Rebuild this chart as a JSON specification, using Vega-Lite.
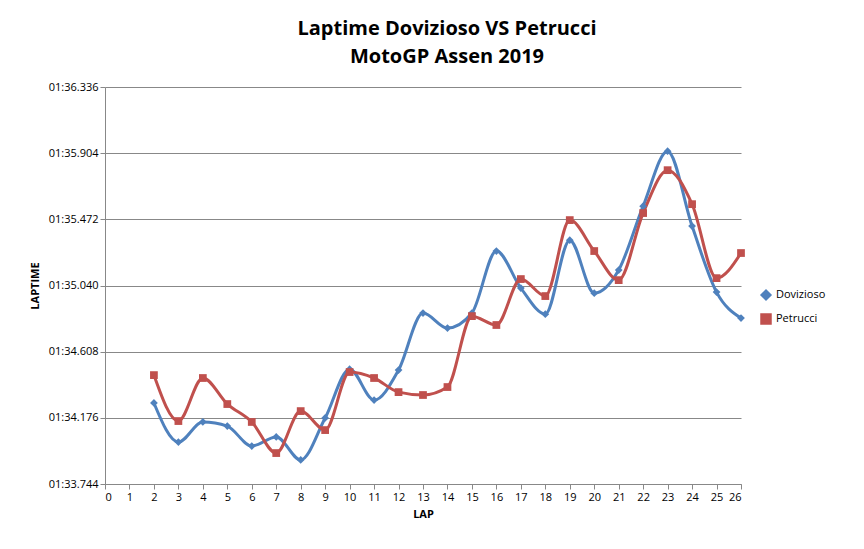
{
"$schema":"https://vega.github.io/schema/vega-lite/v6.json",
"autosize":{"type":"none"},
"width":636,"height":397,
"padding":{"left":105,"top":87,"right":123,"bottom":65},
"background":"white",
"title":{"text":["Laptime Dovizioso VS Petrucci","MotoGP Assen 2019"],"font":"Open Sans","fontSize":20,"fontWeight":"bold","color":"#000","offset":14,"dx":24,"lineHeight":28},
"config":{"view":{"stroke":null},"font":"Open Sans"},
"data":{"values":[
{"lap":2,"r":"Dovizioso","t":34.273},{"lap":3,"r":"Dovizioso","t":34.018},{"lap":4,"r":"Dovizioso","t":34.149},{"lap":5,"r":"Dovizioso","t":34.122},{"lap":6,"r":"Dovizioso","t":33.992},{"lap":7,"r":"Dovizioso","t":34.051},{"lap":8,"r":"Dovizioso","t":33.901},{"lap":9,"r":"Dovizioso","t":34.175},{"lap":10,"r":"Dovizioso","t":34.494},{"lap":11,"r":"Dovizioso","t":34.292},{"lap":12,"r":"Dovizioso","t":34.488},{"lap":13,"r":"Dovizioso","t":34.860},{"lap":14,"r":"Dovizioso","t":34.762},{"lap":15,"r":"Dovizioso","t":34.860},{"lap":16,"r":"Dovizioso","t":35.265},{"lap":17,"r":"Dovizioso","t":35.023},{"lap":18,"r":"Dovizioso","t":34.853},{"lap":19,"r":"Dovizioso","t":35.336},{"lap":20,"r":"Dovizioso","t":34.990},{"lap":21,"r":"Dovizioso","t":35.141},{"lap":22,"r":"Dovizioso","t":35.558},{"lap":23,"r":"Dovizioso","t":35.917},{"lap":24,"r":"Dovizioso","t":35.428},{"lap":25,"r":"Dovizioso","t":34.997},{"lap":26,"r":"Dovizioso","t":34.827},
{"lap":2,"r":"Petrucci","t":34.455},{"lap":3,"r":"Petrucci","t":34.155},{"lap":4,"r":"Petrucci","t":34.436},{"lap":5,"r":"Petrucci","t":34.266},{"lap":6,"r":"Petrucci","t":34.149},{"lap":7,"r":"Petrucci","t":33.946},{"lap":8,"r":"Petrucci","t":34.220},{"lap":9,"r":"Petrucci","t":34.096},{"lap":10,"r":"Petrucci","t":34.475},{"lap":11,"r":"Petrucci","t":34.436},{"lap":12,"r":"Petrucci","t":34.344},{"lap":13,"r":"Petrucci","t":34.325},{"lap":14,"r":"Petrucci","t":34.377},{"lap":15,"r":"Petrucci","t":34.840},{"lap":16,"r":"Petrucci","t":34.782},{"lap":17,"r":"Petrucci","t":35.082},{"lap":18,"r":"Petrucci","t":34.971},{"lap":19,"r":"Petrucci","t":35.467},{"lap":20,"r":"Petrucci","t":35.265},{"lap":21,"r":"Petrucci","t":35.075},{"lap":22,"r":"Petrucci","t":35.513},{"lap":23,"r":"Petrucci","t":35.793},{"lap":24,"r":"Petrucci","t":35.571},{"lap":25,"r":"Petrucci","t":35.088},{"lap":26,"r":"Petrucci","t":35.252}
]},
"encoding":{
"x":{"field":"lap","type":"quantitative","scale":{"domain":[0,26],"nice":false},"axis":{"title":"LAP","values":[0,1,2,3,4,5,6,7,8,9,10,11,12,13,14,15,16,17,18,19,20,21,22,23,24,25,26],"grid":false,"labelFontSize":11,"labelColor":"#000","titleFontSize":11,"titleFontWeight":"bold","titleColor":"#000","domainColor":"#888","tickColor":"#888","titlePadding":6}},
"y":{"field":"t","type":"quantitative","scale":{"domain":[33.744,36.336],"nice":false,"zero":false},"axis":{"title":"LAPTIME","values":[33.744,34.176,34.608,35.04,35.472,35.904,36.336],"labelExpr":"'01:' + format(datum.value,'06.3f')","gridColor":"#888","labelFontSize":11,"labelColor":"#000","titleFontSize":11,"titleFontWeight":"bold","titleColor":"#000","domainColor":"#888","tickColor":"#888","titlePadding":8}},
"color":{"field":"r","type":"nominal","scale":{"domain":["Dovizioso","Petrucci"],"range":["#4F81BD","#C0504D"]},"legend":{"title":null,"orient":"none","legendX":655,"legendY":202,"labelFontSize":11,"labelColor":"#000","rowPadding":8}}
},
"layer":[
{"mark":{"type":"line","interpolate":"monotone","strokeWidth":3}},
{"mark":{"type":"point","filled":true,"opacity":1,"size":60},"encoding":{"shape":{"field":"r","type":"nominal","scale":{"domain":["Dovizioso","Petrucci"],"range":["diamond","square"]},"legend":null}}}
]
}
